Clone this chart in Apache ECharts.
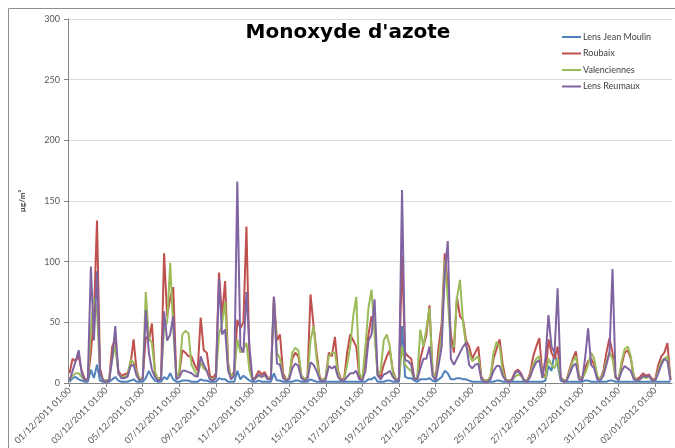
<!DOCTYPE html>
<html>
<head>
<meta charset="utf-8">
<script src="https://cdn.jsdelivr.net/npm/echarts@6/dist/echarts.min.js"></script>
<style>
  html, body { margin: 0; padding: 0; background: #ffffff; }
  #chart { width: 675px; height: 448px; }
</style>
</head>
<body>
<div id="chart"></div>
<script>
// Hourly NO concentrations sampled every 4 hours (01:00, 05:00, 09:00, 13:00, 17:00, 21:00),
// one row per day from 01/12/2011 to 02/01/2012, in µg/m³.
const startTime = Date.UTC(2011, 11, 1, 1, 0);
const stepHours = 4;
const seriesNames = ['Lens Jean Moulin', 'Roubaix', 'Valenciennes', 'Lens Reumaux'];
const seriesColors = ['#4F81BD', '#C0504D', '#9BBB59', '#8064A2'];
const yTicks = [0, 50, 100, 150, 200, 250, 300];

const jeanMoulin = [
  1, 4, 5, 3, 2, 1,
  1, 11, 4, 15, 2, 1,
  1, 1, 3, 5, 2, 1,
  1, 1, 2, 3, 1, 1,
  1, 4, 10, 5, 2, 1,
  1, 5, 3, 8, 3, 1,
  1, 2, 2, 2, 1, 1,
  1, 3, 2, 2, 1, 1,
  1, 4, 3, 3, 1, 1,
  1, 10, 3, 6, 4, 2,
  1, 1, 2, 1, 1, 1,
  1, 8, 2, 2, 1, 1,
  1, 1, 2, 2, 1, 1,
  1, 3, 2, 1, 1, 1,
  1, 1, 1, 1, 1, 1,
  1, 1, 1, 1, 1, 1,
  1, 1, 3, 3, 5, 1,
  1, 1, 2, 2, 1, 1,
  1, 47, 5, 4, 4, 2,
  1, 3, 3, 3, 4, 2,
  1, 3, 5, 10, 8, 3,
  3, 4, 4, 3, 3, 2,
  1, 1, 1, 1, 1, 1,
  1, 1, 2, 2, 1, 1,
  1, 1, 1, 1, 1, 1,
  1, 1, 1, 1, 1, 1,
  2, 14, 10, 25, 15, 2,
  1, 1, 1, 1, 1, 1,
  1, 2, 2, 1, 1, 1,
  1, 1, 1, 2, 2, 1,
  1, 1, 1, 1, 1, 1,
  1, 1, 1, 1, 1, 1,
  1, 1, 1, 1, 1, 1
];

const roubaix = [
  8, 20, 18, 22, 10, 3,
  3, 25, 55, 134, 12, 2,
  2, 3, 30, 36, 10, 6,
  7, 8, 15, 36, 10, 3,
  4, 38, 35, 49, 8, 3,
  5, 107, 55, 70, 79, 5,
  8, 27, 25, 22, 22, 15,
  10, 54, 27, 25, 6, 4,
  8, 91, 55, 84, 16, 4,
  10, 52, 45, 50, 129, 15,
  3, 5, 10, 7, 9, 4,
  5, 71, 35, 40, 8, 3,
  4, 20, 25, 22, 6, 3,
  5, 73, 47, 25, 5, 2,
  5, 25, 22, 38, 10, 3,
  3, 25, 40, 35, 30, 5,
  3, 20, 40, 55, 45, 8,
  5, 15, 22, 27, 10, 3,
  4, 105, 25, 22, 20, 4,
  4, 20, 30, 40, 64, 10,
  3, 30, 49, 107, 80, 40,
  25, 71, 55, 52, 35, 30,
  20, 25, 30, 5, 2, 2,
  5, 20, 28, 36, 15, 3,
  2, 3, 9, 11, 8, 2,
  2, 8, 22, 30, 37, 8,
  5, 36, 25, 20, 30, 5,
  2, 3, 12, 20, 26, 6,
  3, 12, 18, 20, 15, 5,
  3, 10, 25, 37, 25, 5,
  3, 15, 25, 27, 20, 5,
  3, 5, 8, 6, 7, 3,
  3, 15, 22, 25, 33, 3
];

const valenciennes = [
  2, 6, 8, 8, 5, 2,
  3, 45, 70, 60, 8, 2,
  2, 3, 20, 30, 8, 5,
  5, 6, 19, 17, 8, 3,
  4, 75, 37, 33, 10, 3,
  4, 45, 50, 99, 45, 4,
  10, 40, 43, 41, 15, 10,
  6, 17, 12, 10, 4, 3,
  5, 40, 49, 67, 14, 5,
  8, 36, 25, 28, 33, 10,
  2, 4, 6, 5, 6, 3,
  5, 66, 25, 20, 5, 3,
  4, 25, 29, 27, 6, 3,
  4, 35, 47, 20, 4, 2,
  5, 22, 25, 25, 8, 2,
  3, 15, 30, 55, 71, 8,
  3, 30, 62, 77, 40, 6,
  10, 35, 40, 30, 8, 3,
  3, 30, 15, 12, 10, 3,
  5, 44, 30, 45, 62, 10,
  3, 20, 40, 101, 70, 30,
  30, 70, 85, 50, 30, 25,
  18, 20, 22, 4, 2, 2,
  5, 25, 34, 30, 10, 2,
  2, 2, 5, 7, 6, 2,
  2, 6, 15, 20, 22, 6,
  4, 20, 15, 12, 20, 4,
  2, 3, 10, 18, 22, 5,
  3, 8, 15, 25, 20, 6,
  3, 8, 18, 25, 20, 4,
  3, 18, 28, 30, 22, 5,
  2, 3, 5, 4, 5, 2,
  2, 10, 18, 20, 22, 3
];

const reumaux = [
  2, 10, 18, 27, 8, 2,
  3, 96, 35, 92, 8, 2,
  1, 2, 20, 47, 8, 4,
  4, 5, 14, 15, 6, 2,
  3, 60, 25, 11, 5, 2,
  3, 59, 35, 40, 55, 3,
  5, 10, 10, 9, 8, 6,
  5, 22, 15, 10, 3, 2,
  4, 86, 40, 44, 10, 3,
  6, 166, 30, 25, 75, 30,
  2, 4, 7, 5, 7, 3,
  3, 71, 16, 15, 4, 2,
  3, 12, 16, 14, 4, 2,
  3, 17, 15, 10, 3, 1,
  3, 14, 12, 14, 5, 2,
  2, 5, 8, 8, 10, 3,
  2, 10, 35, 40, 69, 6,
  3, 7, 8, 10, 5, 2,
  2, 159, 19, 18, 15, 3,
  3, 12, 20, 20, 30, 6,
  2, 15, 30, 90, 117, 20,
  15, 20, 25, 30, 33, 15,
  12, 15, 16, 3, 1, 1,
  3, 10, 14, 14, 6, 2,
  1, 2, 8, 10, 7, 2,
  1, 5, 12, 17, 19, 4,
  20, 56, 30, 25, 78, 4,
  1, 2, 8, 14, 16, 3,
  2, 20, 45, 15, 12, 3,
  2, 6, 15, 25, 94, 5,
  2, 10, 14, 12, 10, 3,
  2, 3, 6, 5, 6, 2,
  2, 8, 15, 20, 18, 2
];

// Timestamp labels, one per sample: "dd/mm/yyyy hh:mm"
function pad(n) { return (n < 10 ? '0' : '') + n; }
const categories = jeanMoulin.map(function (_, i) {
  const d = new Date(startTime + i * stepHours * 3600 * 1000);
  return pad(d.getUTCDate()) + '/' + pad(d.getUTCMonth() + 1) + '/' + d.getUTCFullYear() +
    ' ' + pad(d.getUTCHours()) + ':' + pad(d.getUTCMinutes());
});
const labelEvery = 48 / stepHours; // one label every two days

const values = [jeanMoulin, roubaix, valenciennes, reumaux];
const font = 'Lato, "Open Sans", sans-serif';

const chart = echarts.init(document.getElementById('chart'), null, { renderer: 'canvas' });
chart.setOption({
  animation: false,
  backgroundColor: '#ffffff',
  graphic: [{
    type: 'rect',
    shape: { x: 8.5, y: 8.5, width: 700, height: 470 },
    style: { fill: 'none', stroke: '#8e8e8e', lineWidth: 1 },
    silent: true,
    z: -1
  }],
  title: {
    text: "Monoxyde d'azote",
    left: 343,
    top: 18,
    textAlign: 'center',
    textStyle: { fontFamily: '"DejaVu Sans", sans-serif', fontWeight: 'bold', fontSize: 20, color: '#000000' }
  },
  legend: {
    orient: 'vertical',
    left: 557,
    top: 26,
    icon: 'rect',
    itemWidth: 19,
    itemHeight: 2,
    itemGap: 4.5,
    data: seriesNames,
    textStyle: { fontFamily: font, fontSize: 9, lineHeight: 12, color: '#404040', padding: [0, 0, 0, -3] }
  },
  grid: { left: 68, right: 3, top: 19, bottom: 65, containLabel: false },
  xAxis: {
    type: 'category',
    data: categories,
    boundaryGap: true,
    axisLine: { lineStyle: { color: '#868686', width: 1 } },
    axisTick: { show: true, interval: labelEvery - 1, alignWithLabel: true, length: 4, lineStyle: { color: '#868686' } },
    axisLabel: {
      interval: labelEvery - 1,
      rotate: 45,
      fontFamily: font,
      fontSize: 9,
      color: '#595959',
      margin: 6
    },
    splitLine: { show: false }
  },
  yAxis: {
    type: 'value',
    min: yTicks[0],
    max: yTicks[yTicks.length - 1],
    interval: yTicks[1] - yTicks[0],
    name: 'µg/m³',
    nameLocation: 'middle',
    nameRotate: 90,
    nameGap: 42,
    nameTextStyle: { fontFamily: font, fontSize: 8, fontWeight: 'bold', color: '#404040' },
    axisLine: { show: true, lineStyle: { color: '#868686', width: 1 } },
    axisTick: { show: true, length: 4, lineStyle: { color: '#868686' } },
    axisLabel: { fontFamily: font, fontSize: 9, color: '#595959', margin: 8 },
    splitLine: { lineStyle: { color: '#d9d9d9', width: 1 } }
  },
  series: seriesNames.map(function (name, k) {
    return {
      name: name,
      type: 'line',
      data: values[k],
      symbol: 'none',
      showSymbol: false,
      smooth: false,
      color: seriesColors[k],
      lineStyle: { color: seriesColors[k], width: 2 },
      z: 2 + k
    };
  })
});
</script>
</body>
</html>
